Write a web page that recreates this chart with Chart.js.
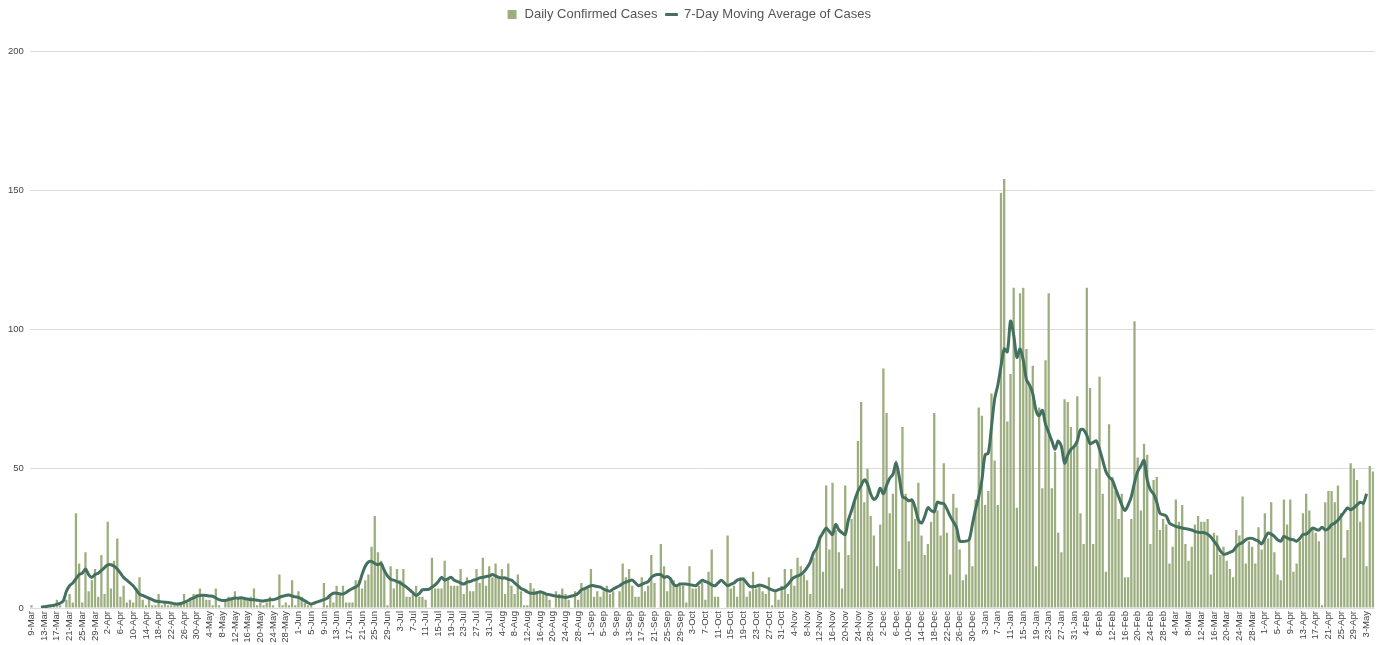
<!DOCTYPE html>
<html>
<head>
<meta charset="utf-8">
<script src="https://cdn.jsdelivr.net/npm/chart.js@4/dist/chart.umd.min.js"></script>
<style>
  html, body { margin: 0; padding: 0; background: #fff; }
  #wrap { width: 1381px; height: 645px; }
</style>
</head>
<body>
<div id="wrap"><canvas id="chart"></canvas></div>
<script>
// Daily series runs from 9-Mar-2020 to 5-May-2021 (one entry per day)
const startDate = new Date(2020, 2, 9);
const monthNames = ['Jan', 'Feb', 'Mar', 'Apr', 'May', 'Jun', 'Jul', 'Aug', 'Sep', 'Oct', 'Nov', 'Dec'];

const dailyCases = [
    1, 0, 0, 0, 1, 1, 1, 1, 3, 1,
    0, 3, 5, 2, 34, 16, 2, 20, 6, 10,
    14, 4, 19, 5, 31, 7, 17, 25, 4, 8,
    2, 3, 2, 7, 11, 3, 1, 4, 1, 1,
    5, 1, 2, 1, 1, 1, 1, 2, 5, 2,
    3, 5, 5, 7, 4, 3, 3, 1, 7, 1,
    0, 3, 4, 3, 6, 4, 4, 4, 3, 4,
    7, 1, 2, 1, 2, 4, 1, 0, 12, 1,
    2, 1, 10, 1, 6, 4, 2, 1, 1, 0,
    0, 0, 9, 1, 5, 2, 8, 5, 8, 2,
    2, 2, 10, 10, 7, 10, 12, 22, 33, 20,
    17, 14, 1, 15, 7, 14, 10, 14, 4, 4,
    5, 8, 4, 4, 3, 0, 18, 7, 7, 7,
    17, 10, 8, 8, 8, 14, 5, 11, 6, 6,
    14, 9, 18, 8, 15, 11, 16, 11, 14, 5,
    16, 8, 5, 12, 6, 1, 1, 9, 7, 6,
    6, 5, 5, 3, 0, 6, 5, 7, 5, 3,
    0, 6, 3, 9, 7, 7, 14, 4, 6, 4,
    6, 8, 5, 6, 0, 6, 16, 11, 14, 8,
    4, 4, 11, 6, 8, 19, 9, 0, 23, 15,
    6, 11, 10, 8, 8, 8, 2, 15, 7, 7,
    8, 10, 3, 13, 21, 4, 4, 0, 0, 26,
    7, 8, 4, 11, 11, 4, 6, 13, 7, 8,
    6, 5, 11, 1, 6, 3, 8, 14, 5, 14,
    8, 18, 15, 12, 10, 5, 18, 22, 26, 13,
    44, 21, 45, 28, 20, 7, 44, 19, 32, 38,
    60, 74, 38, 50, 33, 26, 15, 30, 86, 70,
    34, 41, 53, 14, 65, 41, 24, 39, 32, 45,
    26, 19, 23, 31, 70, 35, 26, 52, 27, 12,
    41, 36, 21, 10, 12, 24, 15, 39, 72, 69,
    37, 42, 77, 53, 37, 149, 154, 67, 84, 115,
    36, 113, 115, 93, 80, 87, 15, 72, 43, 89,
    113, 43, 56, 27, 20, 75, 74, 65, 58, 76,
    34, 23, 115, 79, 23, 50, 83, 41, 13, 66,
    47, 42, 32, 41, 11, 11, 32, 103, 54, 35,
    59, 55, 23, 46, 47, 28, 32, 30, 16, 22,
    39, 31, 37, 23, 17, 22, 30, 33, 31, 31,
    32, 12, 27, 26, 19, 22, 17, 14, 11, 28,
    26, 40, 16, 24, 22, 16, 29, 21, 34, 25,
    38, 20, 12, 10, 39, 30, 39, 13, 16, 24,
    34, 41, 35, 29, 27, 24, 1, 38, 42, 42,
    38, 44, 34, 18, 28, 52, 50, 46, 31, 38,
    15, 51, 49
];

const movingAverage = [
    null, null, null, 0.3, 0.4, 0.6, 0.8, 1, 1.3, 1.7,
    2.5, 6, 8, 9, 10.5, 12, 12.5, 14, 12, 11,
    12, 12.5, 13.5, 14.5, 15.5, 15.5, 15, 14, 12.5, 11,
    10, 9, 8, 6.5, 5, 4.5, 4, 3.5, 3, 2.5,
    2.3, 2.2, 2.1, 2, 1.8, 1.5, 1.4, 1.6, 2, 2.5,
    3.2, 3.6, 4.2, 4.5, 4.6, 4.5, 4.3, 4.2, 3.6, 3,
    2.7, 2.7, 3, 3.3, 3.6, 3.5, 3.7, 3.4, 3.2, 3,
    3, 2.8, 2.6, 2.5, 2.7, 3, 3, 3.3, 3.8, 4.2,
    4.5, 4.7, 4.3, 4, 3.8, 3.2, 2.6, 1.9, 1.4, 1.8,
    2.2, 2.6, 3, 3.5, 4.6, 5.3, 5.3, 5.1, 5, 5.6,
    6.4, 7, 7.5, 8.5, 12, 15, 16.5, 16.7, 16, 15.5,
    16, 13.5, 11.5, 10.3, 10, 9.5, 9, 8.3, 7.5, 6.5,
    5.5, 4.5, 5.2, 6.5, 6.6, 6.7, 7.5, 8.3, 9.5, 11,
    10, 10.5, 11, 10, 9.5, 9, 8.6, 9.3, 9.5, 10,
    10.3, 10.8, 11, 11.3, 11.5, 12, 11.5, 11, 10.8, 10.8,
    10.3, 10, 9, 8, 7, 6.5, 5.8, 5.3, 5.3, 5.5,
    5.8, 5.5, 5, 4.8, 4.5, 4.3, 4.1, 4, 3.8, 4,
    4.3, 4.6, 5.3, 6.5, 7, 7.5, 8, 8, 7.7, 7.5,
    6.8, 6.3, 6, 6.8, 7.4, 8, 8.8, 9.3, 9.7, 10,
    9, 8, 8.5, 9, 9.5, 11, 11.7, 12, 12, 11,
    11.3, 10.5, 8.5, 8, 8.6, 8.6, 8.6, 8.4, 8.2, 8,
    9, 10, 9.5, 9, 8.3, 8, 9, 10, 9, 8,
    8.5, 9, 10, 10.3, 10.3, 9, 7.7, 7.7, 7.8, 8.3,
    8, 7.6, 7, 6.5, 6.2, 6.6, 7, 7.4, 8.5, 10,
    11, 11.5, 12, 13, 14.5, 16.5, 19.7, 21.5, 25, 27,
    28.7, 27.5, 26.4, 30, 28, 27, 26.4, 31.6, 35, 38.8,
    42, 44, 46, 44.6, 41, 39, 40, 43, 41, 44,
    46.6, 48, 52, 47, 40, 39.4, 38.5, 38.8, 36, 31.6,
    30.5, 32.9, 36, 35, 34.5, 38, 37.6, 37.5, 35.5, 33,
    31, 29, 24, 23.9, 24, 24.5, 30, 35.5, 40, 46,
    55, 55.6, 65, 75, 80, 86.8, 93, 92, 103, 98,
    90, 93, 89, 82, 80, 77, 71, 69, 71, 66,
    63, 60, 57, 60, 58, 52, 55, 57, 58, 60,
    64, 64, 62, 59, 59.5, 60, 57, 53, 49, 47,
    46, 43, 40, 37, 35, 37, 40, 45, 49, 51,
    53, 46, 42.4, 41, 38, 34, 33.5, 33, 30.5, 29.8,
    29.3, 29, 28.7, 28.5, 28.3, 28, 27.5, 27.2, 27.1, 27,
    26.5, 25.5, 24, 22.5, 20.5, 19.3, 19.5, 20, 20.5, 22,
    23, 23.5, 24.5, 25, 25, 24.5, 24, 23, 25, 26.9,
    26.5, 25.7, 24.5, 24, 25.7, 25.2, 24.7, 24.5, 24, 25,
    26.4, 26.5, 27.5, 28.7, 28.3, 28, 29, 28, 28.5, 29.9,
    30.5, 31.5, 33, 34.5, 35.9, 35.3, 36, 37, 38, 37.6,
    41, null, null
];

const yTicks = [0, 50, 100, 150, 200];

const dateLabels = dailyCases.map((_, i) => {
    const d = new Date(startDate.getFullYear(), startDate.getMonth(), startDate.getDate() + i);
    return d.getDate() + '-' + monthNames[d.getMonth()];
});

const barColor = '#9cae7f';
const lineColor = '#44705f';

Chart.defaults.font.family = "'Liberation Sans', Arial, sans-serif";
Chart.defaults.color = '#666';

// push the plot down below the legend, as in the original
const legendGap = {
    id: 'legendGap',
    beforeInit(chart) {
        const fit = chart.legend.fit;
        chart.legend.fit = function () {
            fit.bind(chart.legend)();
            this.height += 20;
        };
    }
};

new Chart(document.getElementById('chart'), {
    type: 'bar',
    plugins: [legendGap],
    data: {
        labels: dateLabels,
        datasets: [{
            type: 'line',
            label: '7-Day Moving Average of Cases',
            data: movingAverage,
            borderColor: lineColor,
            backgroundColor: lineColor,
            borderWidth: 3,
            pointRadius: 0,
            pointHoverRadius: 0,
            tension: 0.3,
            order: 0
        }, {
            label: 'Daily Confirmed Cases',
            data: dailyCases,
            backgroundColor: barColor,
            barPercentage: 0.9,
            categoryPercentage: 0.8,
            order: 1
        }]
    },
    options: {
        responsive: true,
        maintainAspectRatio: false,
        animation: false,
        layout: { padding: { top: 0, right: 6, left: 2, bottom: 0 } },
        plugins: {
            legend: {
                display: true,
                position: 'top',
                reverse: true,
                labels: {
                    font: { size: 13 },
                    color: '#555',
                    usePointStyle: true,
                    boxWidth: 12,
                    boxHeight: 9,
                    padding: 8,
                    generateLabels(chart) {
                        const items = Chart.defaults.plugins.legend.labels.generateLabels(chart);
                        items.forEach(it => {
                            const ds = chart.data.datasets[it.datasetIndex];
                            it.pointStyle = ds.type === 'line' ? 'line' : 'rect';
                            it.lineWidth = ds.type === 'line' ? 3 : 0;
                            it.strokeStyle = ds.type === 'line' ? lineColor : barColor;
                        });
                        return items;
                    }
                }
            },
            tooltip: { enabled: false }
        },
        scales: {
            x: {
                grid: { display: false, drawTicks: false },
                border: { display: false },
                afterFit(axis) {
                    axis.height = 37;
                },
                ticks: {
                    autoSkip: false,
                    maxRotation: 90,
                    minRotation: 90,
                    padding: 3,
                    font: { size: 9.5 },
                    color: '#444',
                    callback(value, index) {
                        return index % 4 === 0 ? dateLabels[index] : null;
                    }
                }
            },
            y: {
                min: yTicks[0],
                max: yTicks[yTicks.length - 1],
                afterBuildTicks(axis) {
                    axis.ticks = yTicks.map(v => ({ value: v }));
                },
                grid: { color: '#dcdcdc', drawTicks: false },
                border: { display: false },
                ticks: {
                    font: { size: 9.5 },
                    color: '#444',
                    padding: 6
                }
            }
        }
    }
});
</script>
</body>
</html>
